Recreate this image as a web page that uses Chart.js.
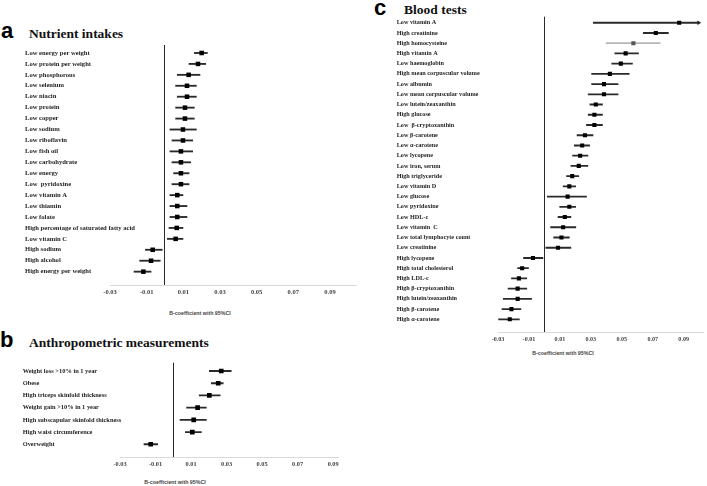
<!DOCTYPE html>
<html>
<head>
<meta charset="utf-8">
<script src="https://cdn.jsdelivr.net/npm/chart.js@4.4.1/dist/chart.umd.min.js"></script>
<style>
body { margin: 0; background: #fff; width: 707px; height: 486px; position: relative; overflow: hidden; }
canvas { position: absolute; }
.txt { position: absolute; white-space: nowrap; line-height: 1; }
.letter { font: bold 22px "Liberation Sans", Arial, sans-serif; color: #000; }
.title { font: bold 13.5px "Liberation Serif", "Times New Roman", serif; color: #111; }
.axt { font: bold 5.3px "Liberation Sans", Arial, sans-serif; color: #444; transform: translate(-50%, -50%); }
</style>
</head>
<body>
<div class="txt letter" style="left:1px;top:18px">a</div>
<div class="txt title" style="left:29px;top:26px">Nutrient intakes</div>
<div class="txt letter" style="left:0px;top:327px">b</div>
<div class="txt title" style="left:29px;top:335px">Anthropometric measurements</div>
<div class="txt letter" style="left:374px;top:-5px">c</div>
<div class="txt title" style="left:404px;top:2px">Blood tests</div>

<canvas id="nutrient" width="360" height="300" style="left:0;top:0"></canvas>
<canvas id="anthro" width="360" height="143" style="left:0;top:330px"></canvas>
<canvas id="blood" width="347" height="348" style="left:360px;top:0"></canvas>

<div class="txt axt" style="left:200px;top:313px">B-coefficient with 95%CI</div>
<div class="txt axt" style="left:175px;top:482px">B-coefficient with 95%CI</div>
<div class="txt axt" style="left:563px;top:353px">B-coefficient with 95%CI</div>

<script>
const X_TICKS = [-0.03, -0.01, 0.01, 0.03, 0.05, 0.07, 0.09];

// a: nutrient intakes
const NUTRIENT_LABELS = ['Low energy per weight', 'Low protein per weight', 'Low phosphorous', 'Low selenium', 'Low niacin',
    'Low protein', 'Low copper', 'Low sodium', 'Low riboflavin', 'Low fish oil', 'Low carbohydrate', 'Low energy',
    'Low  pyridoxine', 'Low vitamin A', 'Low thiamin', 'Low folate', 'High percentage of saturated fatty acid',
    'Low vitamin C', 'High sodium', 'High alcohol', 'High energy per weight'];
const NUTRIENT_BETA = [0.0200, 0.0180, 0.0129, 0.0120, 0.0120, 0.0109, 0.0109, 0.0098, 0.0098, 0.0087, 0.0087,
    0.0087, 0.0087, 0.0067, 0.0067, 0.0067, 0.0064, 0.0058, -0.0067, -0.0076, -0.0118];
const NUTRIENT_LOW = [0.0160, 0.0131, 0.0067, 0.0058, 0.0067, 0.0058, 0.0058, 0.0027, 0.0038, 0.0027, 0.0038,
    0.0047, 0.0038, 0.0027, 0.0027, 0.0027, 0.0022, 0.0013, -0.0107, -0.0138, -0.0169];
const NUTRIENT_HIGH = [0.0231, 0.0222, 0.0191, 0.0171, 0.0171, 0.0160, 0.0160, 0.0171, 0.0151, 0.0151, 0.0140,
    0.0131, 0.0131, 0.0098, 0.0120, 0.0120, 0.0098, 0.0098, -0.0015, -0.0026, -0.0076];

// b: anthropometric measurements
const ANTHRO_LABELS = ['Weight loss >10% in 1 year', 'Obese', 'High triceps skinfold thickness', 'Weight gain >10% in 1 year',
    'High subscapular skinfold thickness', 'High waist circumference', 'Overweight'];
const ANTHRO_BETA = [0.0270, 0.0253, 0.0203, 0.0137, 0.0115, 0.0107, -0.0127];
const ANTHRO_LOW = [0.0203, 0.0214, 0.0146, 0.0075, 0.0038, 0.0068, -0.0165];
const ANTHRO_HIGH = [0.0326, 0.0281, 0.0264, 0.0186, 0.0186, 0.0158, -0.0088];

// c: blood tests
const BLOOD_LABELS = ['Low vitamin A', 'High creatinine', 'High homocysteine', 'High vitamin A', 'Low haemoglobin',
    'High mean corpuscular volume', 'Low albumin', 'Low mean corpuscular volume', 'Low lutein/zeaxanthin', 'High glucose',
    'Low  β-cryptoxanthin', 'Low β-carotene', 'Low α-carotene', 'Low lycopene', 'Low iron, serum', 'High triglyceride',
    'Low vitamin D', 'Low glucose', 'Low pyridoxine', 'Low HDL-c', 'Low vitamin  C', 'Low total lymphocyte count',
    'Low creatinine', 'High lycopene', 'High total cholesterol', 'High LDL-c', 'High β-cryptoxanthin',
    'High lutein/zeaxanthin', 'High β-carotene', 'High α-carotene'];
const BLOOD_BETA = [0.0871, 0.0720, 0.0575, 0.0525, 0.0494, 0.0423, 0.0385, 0.0385, 0.0332, 0.0323, 0.0323, 0.0262,
    0.0244, 0.0231, 0.0222, 0.0180, 0.0161, 0.0150, 0.0161, 0.0132, 0.0121, 0.0110, 0.0088, -0.0074, -0.0144,
    -0.0165, -0.0173, -0.0173, -0.0213, -0.0224];
const BLOOD_LOW = [0.0316, 0.0639, 0.0399, 0.0455, 0.0435, 0.0305, 0.0305, 0.0283, 0.0294, 0.0283, 0.0272, 0.0211,
    0.0193, 0.0182, 0.0171, 0.0143, 0.0121, 0.0019, 0.0099, 0.0088, 0.0040, 0.0060, 0.0009, -0.0135, -0.0173,
    -0.0213, -0.0235, -0.0266, -0.0274, -0.0296];
const BLOOD_HIGH = [0.0997, 0.0801, 0.0748, 0.0608, 0.0569, 0.0548, 0.0476, 0.0476, 0.0375, 0.0375, 0.0375, 0.0314,
    0.0292, 0.0281, 0.0281, 0.0222, 0.0202, 0.0272, 0.0202, 0.0171, 0.0203, 0.0161, 0.0171, -0.0010, -0.0103,
    -0.0114, -0.0114, -0.0083, -0.0152, -0.0162];
// upper CI runs off the axis (drawn with an arrow)
const BLOOD_TRUNCATED = ['Low vitamin A'];
// row drawn in grey in the original
const BLOOD_GREY = ['High homocysteine'];

function forest(id, o) {
    const rows = o.labels.map((_, i) => i);
    const datasets = [{
        type: 'bar',
        indexAxis: 'y',
        order: 2,
        data: rows.map(i => ({ x: [o.low[i], o.high[i]], y: i })),
        backgroundColor: o.labels.map(l => (o.grey || []).includes(l) ? '#b5b5b5' : '#2a2a2a'),
        barThickness: 1.2,
        borderWidth: 0
    }, {
        type: 'scatter',
        order: 1,
        data: rows.map(i => ({ x: o.beta[i], y: i })),
        pointStyle: 'rect',
        pointRadius: o.pointRadius,
        backgroundColor: o.labels.map(l => (o.grey || []).includes(l) ? '#555' : '#000'),
        borderWidth: 0
    }];
    if (o.truncated) {
        const idx = o.truncated.map(l => o.labels.indexOf(l));
        datasets.push({
            type: 'scatter',
            order: 0,
            data: idx.map(i => ({ x: o.high[i], y: i })),
            pointStyle: 'triangle',
            rotation: 90,
            pointRadius: 2.6,
            backgroundColor: '#222',
            borderWidth: 0,
            clip: false
        });
    }

    return new Chart(document.getElementById(id), {
        type: 'scatter',
        data: { datasets: datasets },
        options: {
            responsive: false,
            animation: false,
            events: [],
            layout: { padding: o.padding },
            plugins: { legend: { display: false }, tooltip: { enabled: false } },
            scales: {
                x: {
                    type: 'linear',
                    offset: false,
                    min: -0.03,
                    max: o.xMax,
                    afterBuildTicks: s => { s.ticks = X_TICKS.concat([0]).sort((a, b) => a - b).map(v => ({ value: v })); },
                    afterFit: s => { s.height = o.xHeight; },
                    ticks: {
                        autoSkip: false,
                        maxRotation: 0,
                        padding: o.tickPad,
                        color: '#444',
                        font: { family: 'Liberation Serif', size: o.tickSize, weight: 'bold' },
                        callback: v => v === 0 ? '' : v.toFixed(2)
                    },
                    grid: {
                        offset: false,
                        drawTicks: false,
                        lineWidth: 1,
                        color: c => (c.tick && c.tick.value === 0) ? '#2a2a2a' : 'rgba(0,0,0,0)'
                    },
                    border: { display: true, color: '#d9d9d9', width: 1 }
                },
                y: {
                    type: 'linear',
                    offset: false,
                    reverse: true,
                    min: o.yMin,
                    max: o.yMax,
                    afterBuildTicks: s => { s.ticks = rows.map(i => ({ value: i })); },
                    afterFit: s => { s.width = o.yWidth; },
                    ticks: {
                        autoSkip: false,
                        mirror: true,
                        crossAlign: 'near',
                        // mirrored labels start at the left edge of the axis box, unclipped
                        padding: -o.yWidth,
                        color: '#1e1e1e',
                        font: { family: 'Liberation Serif', size: o.labelSize, weight: 'bold' },
                        callback: v => o.labels[v]
                    },
                    grid: { display: false, offset: false },
                    border: { display: false }
                }
            }
        }
    });
}

forest('nutrient', {
    labels: NUTRIENT_LABELS, beta: NUTRIENT_BETA, low: NUTRIENT_LOW, high: NUTRIENT_HIGH,
    padding: { left: 25, top: 45, right: 4, bottom: 0 },
    yWidth: 85, xHeight: 15, xMax: 0.1042, yMin: -0.73, yMax: 21.22,
    labelSize: 6.6, tickSize: 6.5, tickPad: 3.8, pointRadius: 3.2
});

forest('anthro', {
    labels: ANTHRO_LABELS, beta: ANTHRO_BETA, low: ANTHRO_LOW, high: ANTHRO_HIGH,
    padding: { left: 22.7, top: 32.7, right: 21.7, bottom: 0 },
    yWidth: 97.3, xHeight: 15.3, xMax: 0.0929, yMin: -0.68, yMax: 7.1,
    labelSize: 6.4, tickSize: 6.3, tickPad: 3, pointRadius: 3.3
});

forest('blood', {
    labels: BLOOD_LABELS, beta: BLOOD_BETA, low: BLOOD_LOW, high: BLOOD_HIGH,
    truncated: BLOOD_TRUNCATED, grey: BLOOD_GREY,
    padding: { left: 36.7, top: 16.7, right: 0, bottom: 0 },
    yWidth: 101.3, xHeight: 15.7, xMax: 0.1025, yMin: -0.59, yMax: 30.27,
    labelSize: 6.2, tickSize: 6.1, tickPad: 3, pointRadius: 2.9
});
</script>
</body>
</html>
